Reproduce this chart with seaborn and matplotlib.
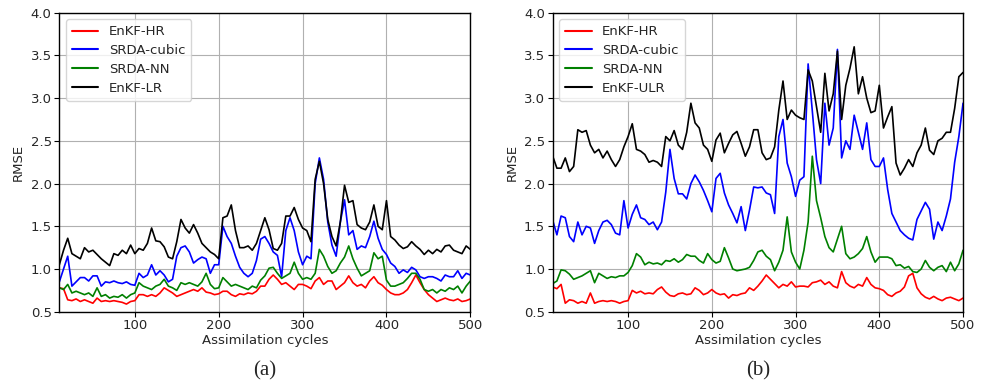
import numpy as np
import pandas as pd
import matplotlib
matplotlib.use("Agg")
import matplotlib.pyplot as plt
import seaborn as sns

# Assimilation cycles (sampled every 5 cycles)
cycles = list(range(10, 501, 5))

# ---- Experiment (a) ----
a_enkf_hr = [0.78, 0.77, 0.64, 0.63, 0.65, 0.62, 0.64, 0.62, 0.60, 0.66,
             0.62, 0.63, 0.62, 0.63, 0.62, 0.61, 0.59, 0.62, 0.63, 0.70,
             0.70, 0.68, 0.70, 0.68, 0.72, 0.78, 0.75, 0.72, 0.68, 0.70,
             0.72, 0.74, 0.76, 0.74, 0.78, 0.73, 0.72, 0.70, 0.71, 0.74,
             0.74, 0.70, 0.68, 0.71, 0.70, 0.72, 0.71, 0.74, 0.80, 0.80,
             0.88, 0.93, 0.88, 0.82, 0.84, 0.80, 0.76, 0.82, 0.82, 0.80,
             0.77, 0.86, 0.90, 0.82, 0.86, 0.86, 0.76, 0.80, 0.84, 0.92,
             0.84, 0.80, 0.82, 0.78, 0.86, 0.91, 0.84, 0.81, 0.76, 0.72,
             0.70, 0.70, 0.72, 0.76, 0.84, 0.93, 0.84, 0.76, 0.70, 0.66,
             0.62, 0.64, 0.66, 0.64, 0.63, 0.65, 0.62, 0.63, 0.65]
a_srda_cubic = [0.85, 1.00, 1.15, 0.80, 0.85, 0.90, 0.90, 0.86, 0.92, 0.92,
                0.80, 0.85, 0.84, 0.86, 0.84, 0.83, 0.85, 0.82, 0.81, 0.95,
                0.90, 0.93, 1.05, 0.93, 0.98, 0.93, 0.85, 0.88, 1.15, 1.25,
                1.27, 1.20, 1.07, 1.11, 1.14, 1.12, 0.95, 1.05, 1.05, 1.50,
                1.38, 1.30, 1.15, 1.02, 0.95, 0.91, 0.95, 1.10, 1.35, 1.38,
                1.30, 1.20, 1.16, 0.91, 1.45, 1.60, 1.45, 1.20, 1.05, 1.15,
                1.12, 2.00, 2.30, 2.05, 1.55, 1.28, 1.15, 1.55, 1.81, 1.40,
                1.45, 1.23, 1.27, 1.25, 1.38, 1.56, 1.36, 1.23, 1.17, 1.07,
                1.03, 0.95, 0.99, 0.96, 1.02, 0.99, 0.91, 0.89, 0.91, 0.91,
                0.89, 0.86, 0.93, 0.91, 0.91, 0.98, 0.89, 0.95, 0.93]
a_srda_nn = [0.78, 0.76, 0.82, 0.72, 0.74, 0.72, 0.70, 0.72, 0.68, 0.78,
             0.68, 0.70, 0.66, 0.68, 0.67, 0.70, 0.66, 0.70, 0.72, 0.84,
             0.80, 0.78, 0.76, 0.80, 0.82, 0.88, 0.80, 0.78, 0.75, 0.84,
             0.82, 0.84, 0.82, 0.80, 0.85, 0.95, 0.82, 0.77, 0.78, 0.90,
             0.85, 0.80, 0.82, 0.80, 0.78, 0.76, 0.80, 0.78, 0.87, 0.92,
             1.01, 1.02, 0.95, 0.89, 0.92, 0.95, 1.08, 0.95, 0.88, 0.90,
             0.88, 0.95, 1.23, 1.15, 1.03, 0.95, 0.98, 1.07, 1.14, 1.27,
             1.12, 1.01, 0.92, 0.95, 0.98, 1.19, 1.12, 1.15, 0.87, 0.80,
             0.80, 0.82, 0.84, 0.89, 0.95, 0.95, 0.88, 0.76, 0.74, 0.76,
             0.72, 0.76, 0.74, 0.78, 0.76, 0.80, 0.72, 0.80, 0.86]
a_enkf_lr = [1.05, 1.22, 1.36, 1.18, 1.15, 1.12, 1.25, 1.20, 1.22, 1.17,
             1.12, 1.08, 1.04, 1.18, 1.16, 1.22, 1.18, 1.28, 1.18, 1.24,
             1.22, 1.30, 1.48, 1.33, 1.32, 1.26, 1.14, 1.12, 1.32, 1.58,
             1.48, 1.42, 1.52, 1.42, 1.30, 1.25, 1.20, 1.17, 1.12, 1.60,
             1.62, 1.75, 1.45, 1.25, 1.25, 1.27, 1.22, 1.30, 1.45, 1.60,
             1.46, 1.24, 1.22, 1.30, 1.62, 1.62, 1.72, 1.58, 1.48, 1.45,
             1.32, 2.05, 2.26, 2.00, 1.58, 1.38, 1.27, 1.55, 1.98, 1.78,
             1.80, 1.52, 1.48, 1.46, 1.55, 1.75, 1.50, 1.46, 1.80, 1.38,
             1.34, 1.28, 1.24, 1.26, 1.32, 1.27, 1.23, 1.17, 1.22, 1.18,
             1.23, 1.20, 1.27, 1.28, 1.22, 1.20, 1.18, 1.27, 1.23]

# ---- Experiment (b) ----
b_enkf_hr = [0.79, 0.77, 0.82, 0.60, 0.64, 0.63, 0.60, 0.62, 0.60, 0.72,
             0.60, 0.62, 0.63, 0.62, 0.63, 0.62, 0.60, 0.62, 0.63, 0.75,
             0.72, 0.74, 0.71, 0.72, 0.71, 0.76, 0.79, 0.73, 0.69, 0.68,
             0.71, 0.72, 0.70, 0.71, 0.78, 0.75, 0.70, 0.72, 0.76, 0.72,
             0.70, 0.71, 0.66, 0.70, 0.69, 0.71, 0.72, 0.78, 0.75, 0.80,
             0.86, 0.93, 0.88, 0.83, 0.78, 0.82, 0.80, 0.85, 0.79, 0.80,
             0.80, 0.79, 0.84, 0.85, 0.87, 0.82, 0.85, 0.80, 0.78, 0.97,
             0.84, 0.80, 0.78, 0.82, 0.80, 0.90, 0.82, 0.78, 0.77, 0.75,
             0.70, 0.68, 0.72, 0.74, 0.79, 0.92, 0.95, 0.78, 0.71, 0.67,
             0.65, 0.68, 0.65, 0.63, 0.66, 0.67, 0.65, 0.63, 0.66]
b_srda_cubic = [1.57, 1.40, 1.62, 1.60, 1.38, 1.32, 1.55, 1.40, 1.50, 1.48,
                1.30, 1.45, 1.55, 1.57, 1.52, 1.42, 1.40, 1.80, 1.48, 1.64,
                1.75, 1.60, 1.58, 1.52, 1.55, 1.46, 1.55, 1.90, 2.40, 2.06,
                1.88, 1.88, 1.82, 2.00, 2.10, 2.02, 1.92, 1.80, 1.67, 2.06,
                2.12, 1.89, 1.75, 1.65, 1.54, 1.73, 1.45, 1.69, 1.96, 1.95,
                1.96, 1.89, 1.87, 1.65, 2.55, 2.75, 2.24, 2.08, 1.85, 2.04,
                2.08, 3.40, 2.85, 2.28, 2.00, 2.94, 2.45, 2.65, 3.57, 2.30,
                2.50, 2.40, 2.80, 2.60, 2.40, 2.71, 2.28, 2.20, 2.20, 2.30,
                1.93, 1.65, 1.55, 1.45, 1.40, 1.36, 1.34, 1.58, 1.68, 1.78,
                1.70, 1.35, 1.55, 1.45, 1.62, 1.82, 2.25, 2.55, 2.94]
b_srda_nn = [0.83, 0.86, 0.99, 0.98, 0.94, 0.88, 0.90, 0.92, 0.95, 0.98,
             0.84, 0.95, 0.92, 0.89, 0.91, 0.90, 0.92, 0.92, 0.96, 1.04,
             1.18, 1.14, 1.05, 1.08, 1.06, 1.07, 1.05, 1.10, 1.09, 1.12,
             1.08, 1.11, 1.17, 1.15, 1.15, 1.10, 1.07, 1.18, 1.11, 1.07,
             1.09, 1.25, 1.13, 1.00, 0.98, 0.99, 1.00, 1.02, 1.10, 1.20,
             1.22, 1.15, 1.11, 0.98, 1.08, 1.22, 1.61, 1.20, 1.08, 1.00,
             1.22, 1.55, 2.32, 1.80, 1.60, 1.38, 1.25, 1.20, 1.35, 1.50,
             1.18, 1.12, 1.14, 1.18, 1.24, 1.38, 1.20, 1.08, 1.14, 1.14,
             1.14, 1.12, 1.04, 1.05, 1.01, 1.03, 0.97, 0.96, 1.00, 1.10,
             1.02, 0.98, 1.02, 1.04, 0.97, 1.08, 0.98, 1.06, 1.22]
b_enkf_ulr = [2.32, 2.18, 2.18, 2.30, 2.14, 2.20, 2.63, 2.60, 2.62, 2.45,
              2.36, 2.40, 2.30, 2.38, 2.28, 2.20, 2.28, 2.43, 2.55, 2.70,
              2.40, 2.38, 2.34, 2.25, 2.27, 2.25, 2.20, 2.55, 2.50, 2.62,
              2.45, 2.40, 2.60, 2.94, 2.71, 2.65, 2.45, 2.40, 2.26, 2.51,
              2.59, 2.36, 2.47, 2.57, 2.61, 2.47, 2.32, 2.43, 2.63, 2.63,
              2.36, 2.28, 2.30, 2.43, 2.86, 3.20, 2.75, 2.86, 2.80, 2.77,
              2.75, 3.33, 3.20, 2.90, 2.60, 3.29, 2.85, 3.05, 3.55, 2.75,
              3.15, 3.35, 3.60, 3.05, 3.25, 3.00, 2.83, 2.85, 3.15, 2.65,
              2.78, 2.90, 2.24, 2.10, 2.18, 2.28, 2.20, 2.36, 2.45, 2.65,
              2.39, 2.34, 2.50, 2.53, 2.60, 2.60, 2.88, 3.25, 3.30]

series_a = [("EnKF-HR", a_enkf_hr, "red"),
            ("SRDA-cubic", a_srda_cubic, "blue"),
            ("SRDA-NN", a_srda_nn, "green"),
            ("EnKF-LR", a_enkf_lr, "black")]
series_b = [("EnKF-HR", b_enkf_hr, "red"),
            ("SRDA-cubic", b_srda_cubic, "blue"),
            ("SRDA-NN", b_srda_nn, "green"),
            ("EnKF-ULR", b_enkf_ulr, "black")]

sns.set_style("whitegrid", {
    "axes.edgecolor": "black",
    "grid.color": "#b0b0b0",
    "xtick.bottom": True,
    "ytick.left": True,
})
plt.rcParams["font.family"] = ["DejaVu Sans"]
plt.rcParams["axes.linewidth"] = 1.0

fig = plt.figure(figsize=(9.84, 3.83), dpi=100)
ax_a = fig.add_axes([0.0603, 0.186, 0.4177, 0.781])
ax_b = fig.add_axes([0.5617, 0.186, 0.4170, 0.781])

for ax, series, tag in [(ax_a, series_a, "(a)"), (ax_b, series_b, "(b)")]:
    for name, vals, col in series:
        sns.lineplot(x=cycles, y=vals, color=col, linewidth=1.2,
                     label=name, ax=ax)
    ax.set_xlim(10, 500)
    ax.set_ylim(0.5, 4.0)
    ax.set_xticks([100, 200, 300, 400, 500])
    ax.set_yticks(np.arange(0.5, 4.01, 0.5))
    ax.tick_params(axis="both", labelsize=9.5, length=3.5, width=0.8,
                   color="black", pad=2)
    ax.set_xlabel("Assimilation cycles", fontsize=9.5, labelpad=1)
    ax.set_ylabel("RMSE", fontsize=9.5, labelpad=4)
    ax.grid(True, linewidth=0.8)
    leg = ax.legend(loc="upper left", fontsize=9.5, frameon=True,
                    fancybox=True, framealpha=0.8, edgecolor="#cccccc",
                    borderpad=0.45, labelspacing=0.45)
    for line in leg.get_lines():
        line.set_linewidth(1.5)
    ax.text(0.5, -0.198, tag, transform=ax.transAxes, ha="center",
            va="center", fontsize=15,
            family=["Liberation Serif", "DejaVu Serif"])

fig.savefig("out.png", dpi=100)
